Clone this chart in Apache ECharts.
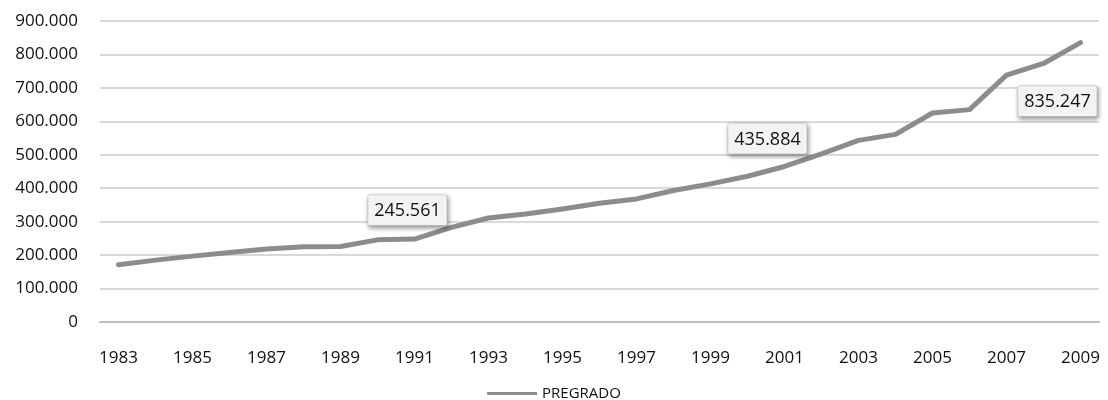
<!DOCTYPE html>
<html>
<head>
<meta charset="utf-8">
<script src="https://cdn.jsdelivr.net/npm/echarts@6/dist/echarts.min.js"></script>
<style>
  html, body { margin: 0; padding: 0; background: #fff; }
  #chart { width: 1108px; height: 400px; }
</style>
</head>
<body>
<div id="chart"></div>
<script>
const years = ['1983','1984','1985','1986','1987','1988','1989','1990','1991','1992','1993','1994','1995',
  '1996','1997','1998','1999','2000','2001','2002','2003','2004','2005','2006','2007','2008','2009']
const pregrado = [171000,185000,197000,208000,218000,225000,226000,245561,248000,283000,311000,323000,338000,
  355000,368000,393000,413000,435884,465000,503000,543000,561000,625000,635000,738000,773000,835247]
const labelYears = ['1990','2000','2009']

const fmt = (v) => {
  return String(Math.round(v)).replace(/\B(?=(\d{3})+(?!\d))/g, '.')
}

// label placement for the three highlighted points
const labelPos = {
  '1990': { position: 'top', distance: 14, offset: [30, 0] },
  '2000': { position: 'top', distance: 22, offset: [20, 0] },
  '2009': { position: 'bottom', distance: 43, offset: [-23, 0] }
}

const seriesData = pregrado.map((v, i) => {
  const y = years[i]
  if (labelYears.indexOf(y) < 0) return v
  return {
    value: v,
    label: Object.assign({
      show: true,
      formatter: (p) => fmt(p.value),
      fontFamily: 'Open Sans',
      fontSize: 18,
      color: '#111',
      backgroundColor: '#f3f3f3',
      borderColor: '#dcdcdc',
      borderWidth: 1,
      borderRadius: 2,
      padding: [7, 6, 5, 6],
      shadowColor: 'rgba(0,0,0,0.35)',
      shadowBlur: 4,
      shadowOffsetX: 1,
      shadowOffsetY: 2
    }, labelPos[y])
  }
})

const myChart = echarts.init(document.getElementById('chart'))
const option = {
  backgroundColor: '#fff',
  animation: false,
  textStyle: { fontFamily: 'Open Sans' },
  grid: { left: 100, right: 9, top: 21, bottom: 78 },
  legend: {
    left: 'center',
    top: 381,
    icon: 'rect',
    itemWidth: 50,
    itemHeight: 3,
    itemGap: 5,
    textStyle: { fontFamily: 'Open Sans', fontSize: 15, color: '#111' },
    data: ['PREGRADO']
  },
  xAxis: {
    type: 'category',
    boundaryGap: true,
    data: years,
    axisTick: { show: false },
    axisLine: { lineStyle: { color: '#bdbdbd', width: 2 } },
    axisLabel: { interval: 1, margin: 28, fontSize: 17, color: '#111', fontFamily: 'Open Sans' }
  },
  yAxis: {
    type: 'value',
    min: 0,
    max: 900000,
    interval: 100000,
    axisLabel: { margin: 22, fontSize: 17, color: '#111', fontFamily: 'Open Sans', formatter: fmt },
    splitLine: { lineStyle: { color: '#d9d9d9', width: 2 } }
  },
  series: [
    {
      name: 'PREGRADO',
      type: 'line',
      data: seriesData,
      symbol: 'circle',
      symbolSize: 1,
      itemStyle: { color: '#8c8c8c' },
      lineStyle: { color: '#8c8c8c', width: 5, cap: 'round', join: 'round' },
      emphasis: { disabled: true }
    }
  ]
}
myChart.setOption(option)
</script>
</body>
</html>
